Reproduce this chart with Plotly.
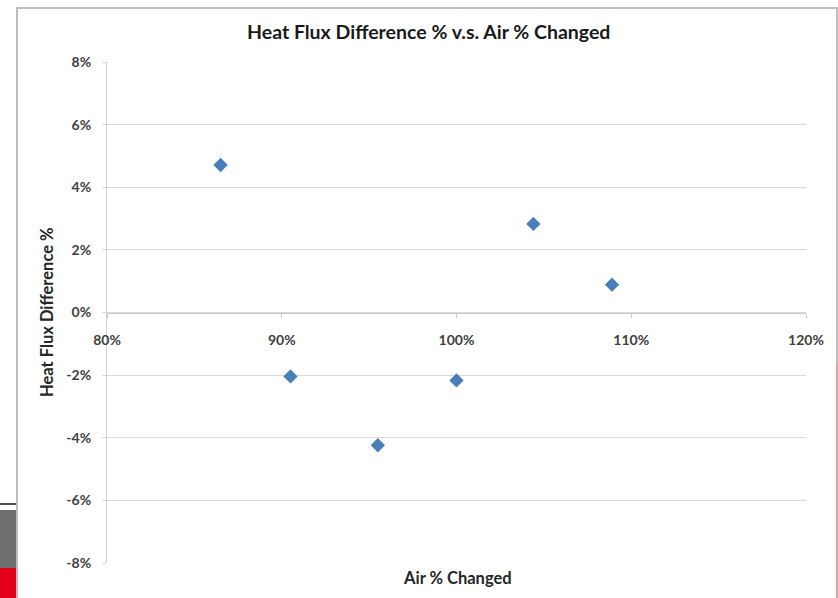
import plotly.graph_objects as go

# Air flow relative to baseline (fraction) and resulting heat flux difference (fraction)
air_changed = [0.865, 0.905, 0.955, 1.000, 1.044, 1.089]
heat_flux_diff = [0.0471, -0.0204, -0.0424, -0.0217, 0.0283, 0.0089]

x_ticks = [0.8, 0.9, 1.0, 1.1, 1.2]
x_tick_labels = ["80%", "90%", "100%", "110%", "120%"]
y_ticks = [-0.08, -0.06, -0.04, -0.02, 0.0, 0.02, 0.04, 0.06, 0.08]
y_tick_labels = ["-8%", "-6%", "-4%", "-2%", "0%", "2%", "4%", "6%", "8%"]

W, H = 838, 598
L, R, T, B = 107, 32, 62, 35
pw, ph = W - L - R, H - T - B


def px(x):
    return (x - L) / pw


def py(y):
    return (H - B - y) / ph


tick_font = dict(family="Lato", size=14, color="#404040", weight="bold")
grid = "#d9d9d9"

fig = go.Figure()
fig.add_trace(go.Scatter(
    x=air_changed, y=heat_flux_diff, mode="markers",
    marker=dict(symbol="diamond", size=11, color="#4a7ebb",
                line=dict(width=0)),
    showlegend=False, hoverinfo="x+y",
))

fig.update_layout(
    width=W, height=H,
    margin=dict(l=L, r=R, t=T, b=B),
    paper_bgcolor="white", plot_bgcolor="white",
    xaxis=dict(
        range=[0.8, 1.2], tickvals=x_ticks, ticktext=x_tick_labels,
        tickfont=tick_font, showgrid=False, zeroline=False,
        anchor="free", position=0.5, showline=True, linecolor="#c8c8c8",
        linewidth=1, ticks="outside", ticklen=4, tickcolor="#c8c8c8",
        ticklabelstandoff=11,
    ),
    yaxis=dict(
        range=[-0.08, 0.08], tickvals=y_ticks, ticktext=y_tick_labels,
        tickfont=tick_font, showgrid=True, gridcolor=grid, gridwidth=1,
        zeroline=False, showline=True, linecolor="#d0d0d0", linewidth=1,
        ticks="outside", ticklen=4, tickcolor=grid, ticklabelstandoff=8,
    ),
    shapes=[
        # chart frame
        dict(type="rect", xref="paper", yref="paper",
             x0=px(17), x1=px(837), y0=py(620), y1=py(8),
             line=dict(color="#bdbdbd", width=2), fillcolor="rgba(0,0,0,0)",
             layer="below"),
        # neighbouring slide edge at lower left
        dict(type="rect", xref="paper", yref="paper",
             x0=px(-2), x1=px(16), y0=py(568), y1=py(510),
             line=dict(width=0), fillcolor="#707070", layer="below"),
        dict(type="rect", xref="paper", yref="paper",
             x0=px(-2), x1=px(16), y0=py(600), y1=py(568),
             line=dict(width=0), fillcolor="#e2001a", layer="below"),
        dict(type="line", xref="paper", yref="paper",
             x0=px(0), x1=px(16), y0=py(504), y1=py(504),
             line=dict(color="#505050", width=2)),
        dict(type="line", xref="paper", yref="paper",
             x0=px(837), x1=px(837), y0=py(598), y1=py(362),
             line=dict(color="#d9a0a8", width=1.5)),
    ],
    annotations=[
        dict(text="Heat Flux Difference % v.s. Air % Changed",
             xref="paper", yref="paper", x=px(428), y=py(32),
             showarrow=False, xanchor="center", yanchor="middle",
             font=dict(family="Lato", size=19.5, color="#1a1a1a", weight="bold")),
        dict(text="Air % Changed", xref="paper", yref="paper",
             x=px(457), y=py(578), showarrow=False,
             xanchor="center", yanchor="middle",
             font=dict(family="Lato", size=16.5, color="#262626", weight="bold")),
        dict(text="Heat Flux Difference %", xref="paper", yref="paper",
             x=px(47), y=py(312), showarrow=False, textangle=-90,
             xanchor="center", yanchor="middle",
             font=dict(family="Lato", size=16.5, color="#262626", weight="bold")),
    ],
)

fig.write_html("out.html")
